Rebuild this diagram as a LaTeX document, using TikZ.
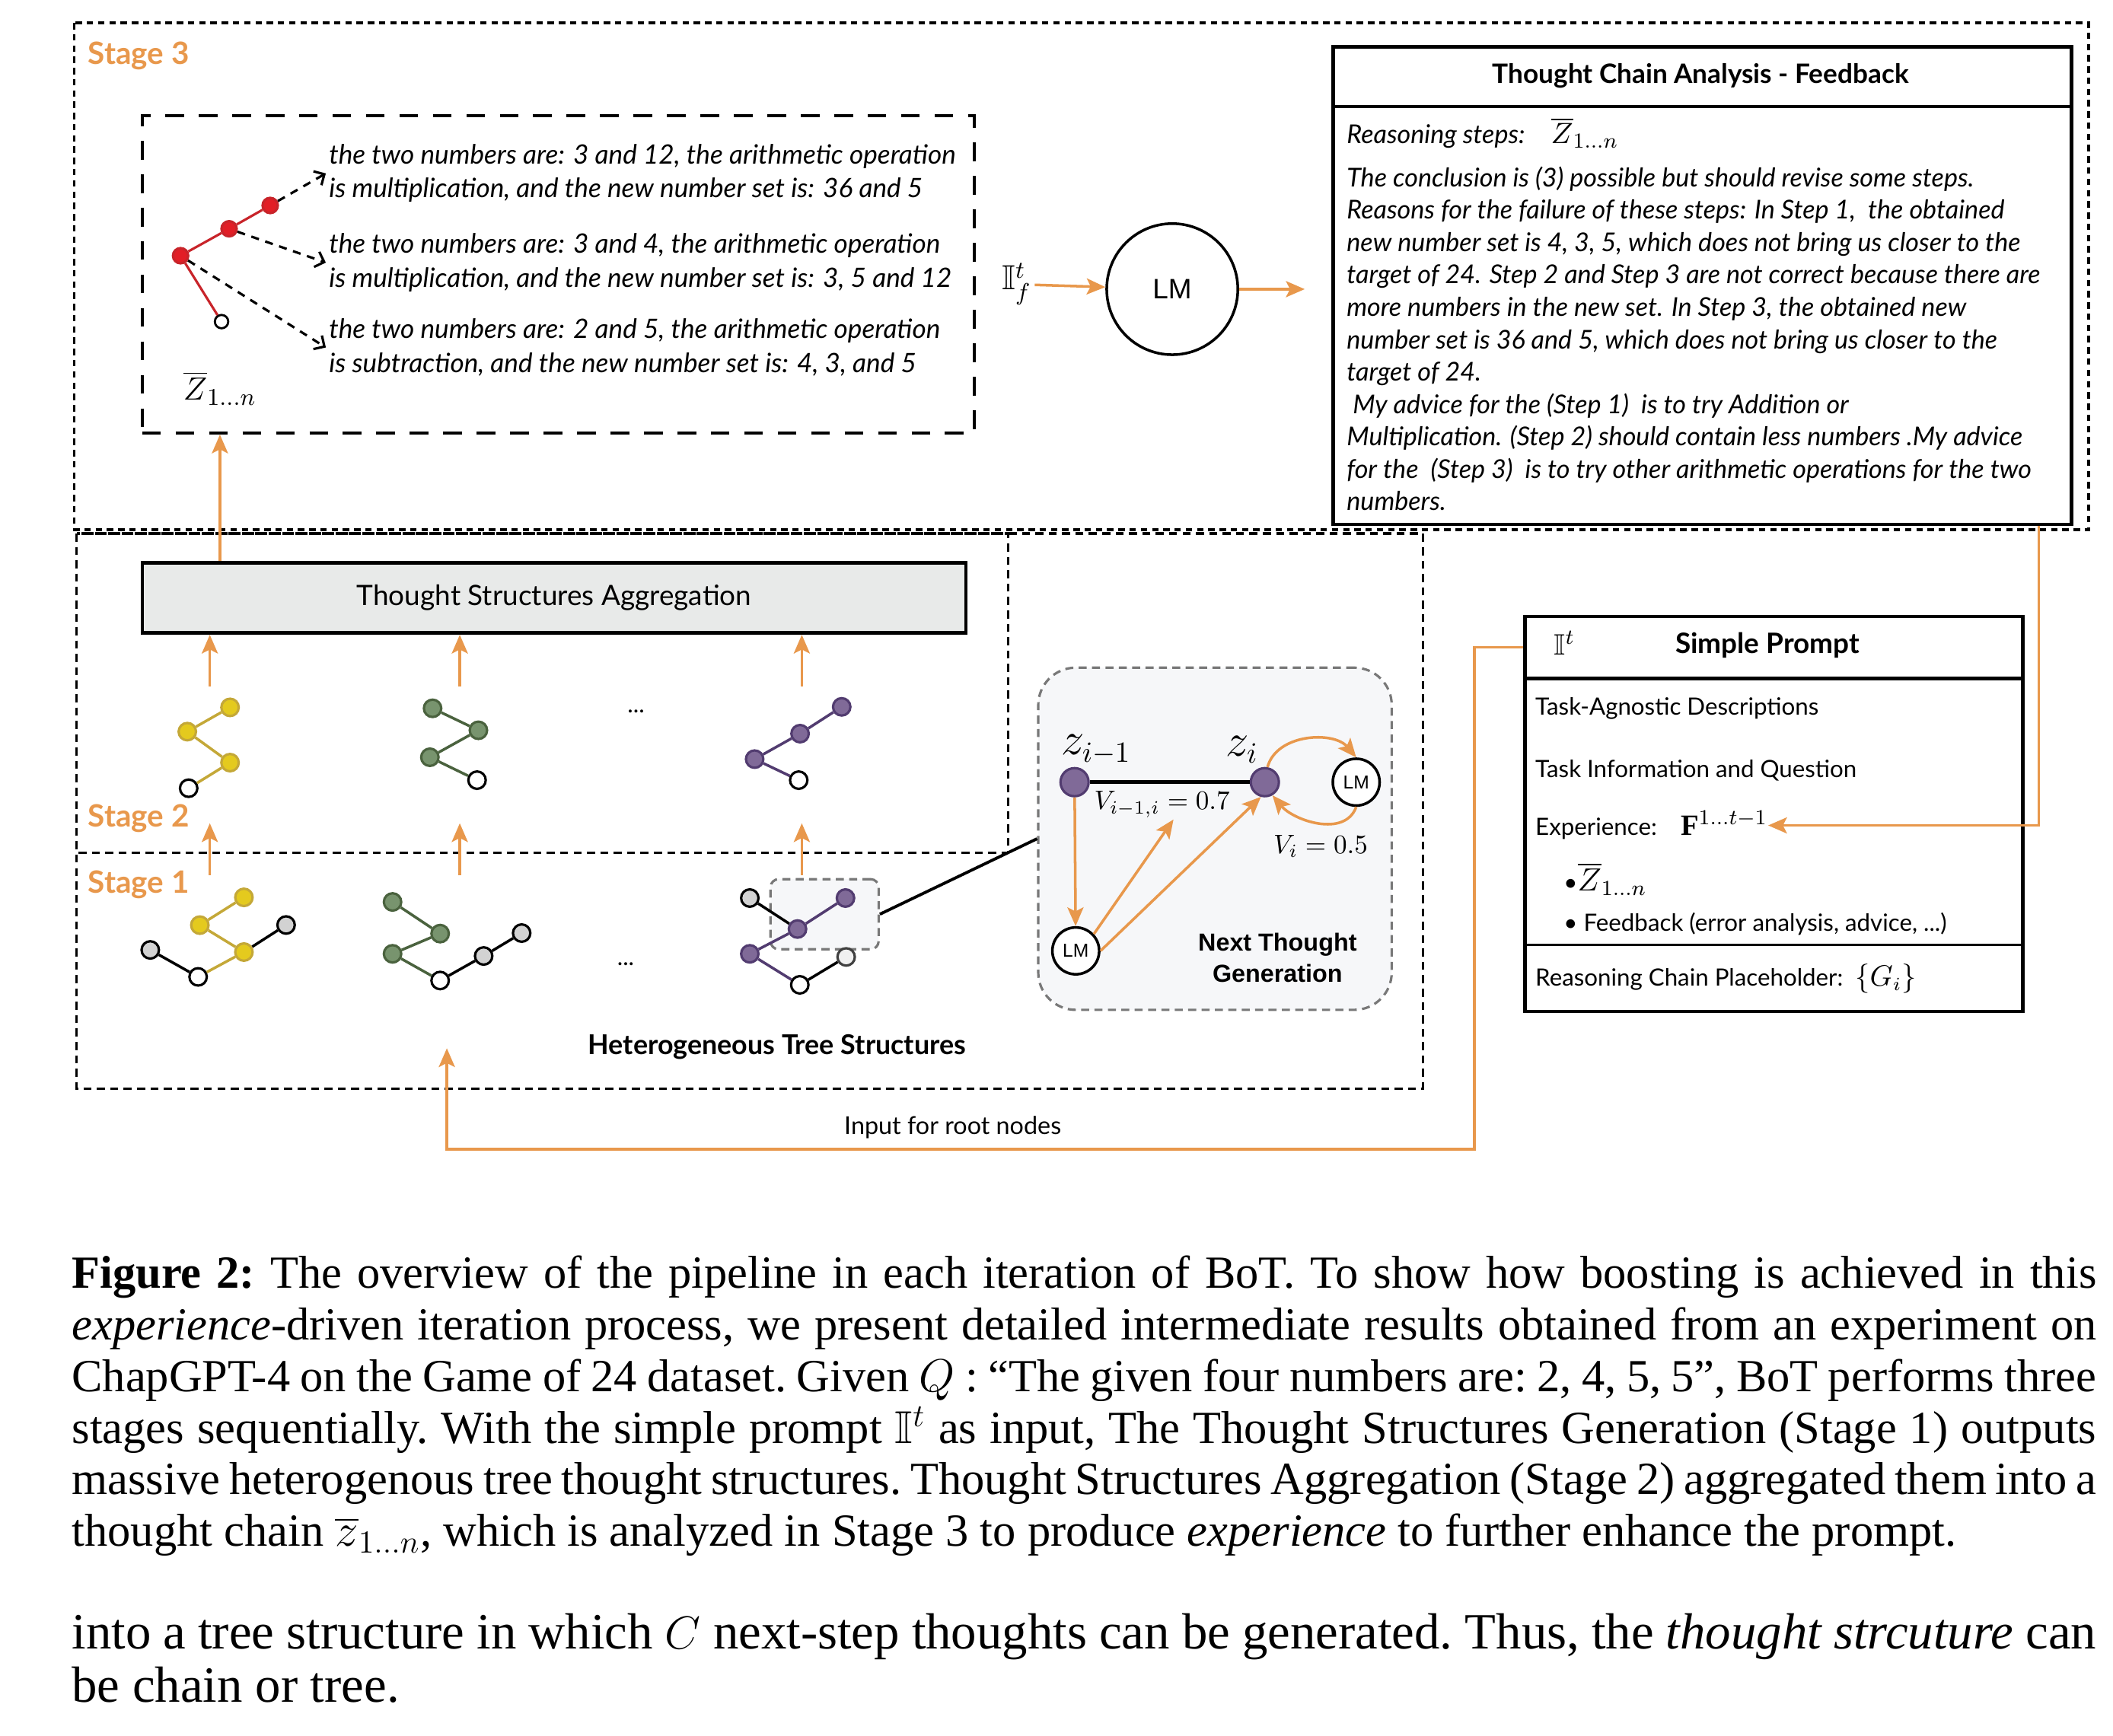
\documentclass[tikz,border=0pt]{standalone}
\usepackage{amsmath,amssymb}
\usepackage{fontspec}
\setmainfont{Liberation Serif}
\setsansfont{Lato}
\newfontfamily\arialfont{Liberation Sans}
\usetikzlibrary{arrows.meta,positioning,calc}
\definecolor{stageorange}{RGB}{232,152,76}
\definecolor{yfill}{RGB}{228,202,30}
\definecolor{yline}{RGB}{196,168,56}
\definecolor{gfill}{RGB}{120,148,110}
\definecolor{gline}{RGB}{74,98,62}
\definecolor{pfill}{RGB}{128,106,152}
\definecolor{pline}{RGB}{82,60,112}
\definecolor{kfill}{RGB}{210,210,210}
\definecolor{rfill}{RGB}{226,30,38}
\definecolor{rline}{RGB}{200,36,42}
\definecolor{aggfill}{RGB}{232,234,233}
\definecolor{ntgfill}{RGB}{246,247,249}
\definecolor{ntgline}{RGB}{120,120,120}
\tikzset{
	arr/.style={draw=stageorange, line width=1pt, -{Stealth[length=7pt,width=6pt,inset=1.5pt]}},
	tn/.style={circle, draw, line width=0.9pt, inner sep=0pt, minimum size=6.5pt},
	yn/.style={tn, fill=yfill, draw=yline},
	gn/.style={tn, fill=gfill, draw=gline},
	pn/.style={tn, fill=pfill, draw=pline},
	wn/.style={tn, fill=white, draw=black},
	kn/.style={tn, fill=kfill, draw=black},
	ye/.style={draw=yline, line width=1pt},
	ge/.style={draw=gline, line width=1pt},
	pe/.style={draw=pline, line width=1pt},
	ke/.style={draw=black, line width=1pt},
	stagebox/.style={dash pattern=on 3pt off 2pt, line width=0.9pt},
	stagelabel/.style={text=stageorange, font=\sffamily\bfseries\fontsize{11.5}{12}\selectfont, anchor=west, inner sep=0pt},
	box/.style={draw, line width=1.3pt, inner sep=0pt},
	steptext/.style={font=\sffamily\itshape\fontsize{10}{12.6}\selectfont, align=left, anchor=west, inner sep=1pt},
	item/.style={anchor=west, inner sep=0pt, font=\sffamily\fontsize{8.9}{9}\selectfont},
	lm/.style={circle, draw, line width=1pt, fill=white, inner sep=0pt, font=\arialfont\fontsize{7}{7}\selectfont, minimum size=17.5pt},
	zn/.style={circle, draw=pline, line width=0.9pt, fill=pfill, inner sep=0pt, minimum size=10.5pt},
	dots/.style={font=\sffamily\fontsize{9}{9}\selectfont},
	captext/.style={anchor=base west, inner sep=0pt, text width=756.6pt, align=justify, font=\rmfamily\frenchspacing\fontsize{17.2}{19.3}\selectfont}
}
\begin{document}
\begin{tikzpicture}[x=0.017704cm, y=-0.017704cm, font=\sffamily]
	\useasboundingbox (0,0) rectangle (1568,1288);

	\draw[dash pattern=on 2.4pt off 1.8pt, line width=1pt] (55,17) rectangle (1550,393);
	\draw[stagebox] (57,396) rectangle (1056,808);
	\draw[stagebox] (57,396) rectangle (748,633);
	\node[stagelabel] at (65,41.6) {Stage 3};
	\node[stagelabel] at (65,607.2) {Stage 2};
	\node[stagelabel] at (65,656.5) {Stage 1};

	\node[draw, dash pattern=on 7pt off 5.5pt, line width=1.2pt, minimum width=311pt, minimum height=118.6pt] (zbox) at (414.3,203.6) {};
	\node[steptext] (s1) at (241.8,128.7) {the two numbers are: 3 and 12, the arithmetic operation\\is multiplication, and the new number set is: 36 and 5};
	\node[steptext] (s2) at (241.8,194.9) {the two numbers are: 3 and 4, the arithmetic operation\\is multiplication, and the new number set is: 3, 5 and 12};
	\node[steptext] (s3) at (241.8,257.9) {the two numbers are: 2 and 5, the arithmetic operation\\is subtraction, and the new number set is: 4, 3, and 5};
	\node[tn, fill=rfill, draw=rline, minimum size=5.7pt] (rt) at (134,189.8) {};
	\node[tn, fill=rfill, draw=rline, minimum size=5.7pt] (rm) at (170,169.8) {};
	\node[tn, fill=rfill, draw=rline, minimum size=5.7pt] (rtop) at (200.5,152.5) {};
	\node[tn, fill=white, line width=0.8pt, minimum size=5pt] (rw) at (164.4,238.7) {};
	\draw[draw=rline, line width=0.9pt] (rt) -- (rm) -- (rtop);
	\draw[draw=rline, line width=0.9pt] (rt) -- (rw);
	\foreach \a/\b in {rtop/s1, rm/s2, rt/s3}
		\draw[dash pattern=on 3pt off 2.5pt, line width=0.9pt, -{Straight Barb[length=3pt,width=6pt]}] (\a) -- (\b.west);
	\node[font=\fontsize{13}{13}\selectfont] (zbar) at (163.2,288) {$\overline{Z}_{1\ldots n}$};

	\node[inner sep=1pt, font=\fontsize{13}{13}\selectfont] (ift) at (754.5,211) {$\mathbb{I}^t_f$};
	\node[circle, draw, line width=1pt, minimum size=49pt, inner sep=0pt, font=\arialfont\fontsize{10.5}{10.5}\selectfont] (lmbig) at (869.9,214.6) {LM};
	\coordinate (fbin) at (968.2,214.6);
	\draw[arr] (ift) -- (lmbig);
	\draw[arr] (lmbig) -- (fbin);

	\node[box, minimum width=276pt, minimum height=178.6pt, anchor=north west] (fb) at (988,33.3) {};
	\draw[line width=1.3pt] (fb.north west |- 0,79) -- (fb.north east |- 0,79);
	\node[font=\sffamily\bfseries\fontsize{10}{10}\selectfont] (fbtitle) at (1262,56.5) {Thought Chain Analysis - Feedback};
	\node[font=\sffamily\itshape\fontsize{9.7}{12.1}\selectfont, align=left, anchor=north west, inner sep=0pt] (fbbody) at (999,87) {Reasoning steps:\quad {\upshape\fontsize{11}{11}\selectfont$\overline{Z}_{1\ldots n}$}\\[4pt]
		The conclusion is (3) possible but should revise some steps.\\
		Reasons for the failure of these steps: In Step 1,\ \ the obtained\\
		new number set is 4, 3, 5, which does not bring us closer to the\\
		target of 24. Step 2 and Step 3 are not correct because there are\\
		more numbers in the new set. In Step 3, the obtained new\\
		number set is 36 and 5, which does not bring us closer to the\\
		target of 24.\\
		\ My advice for the (Step 1)\ \ is to try Addition or\\
		Multiplication. (Step 2) should contain less numbers .My advice\\
		for the\ \ (Step 3)\ \ is to try other arithmetic operations for the two\\
		numbers.};

	\node[box, fill=aggfill, minimum width=307.9pt, minimum height=26.2pt, font=\sffamily\fontsize{10.5}{10.5}\selectfont] (agg) at (411.2,443.8) {Thought Structures Aggregation};
	\coordinate (ax) at (163.2,0);
	\draw[arr] (agg.north -| ax) -- (zbox.south -| ax);

	\node[yn] (ya1) at (170.7,525) {};
	\node[yn] (ya2) at (139,543) {};
	\node[yn] (ya3) at (170.7,566) {};
	\node[wn] (ya4) at (140,585) {};
	\draw[ye] (ya1) -- (ya2) -- (ya3) -- (ya4);
	\node[gn] (ga1) at (321,525.7) {};
	\node[gn] (ga2) at (355,542) {};
	\node[gn] (ga3) at (319,562) {};
	\node[wn] (ga4) at (354,579) {};
	\draw[ge] (ga1) -- (ga2) -- (ga3) -- (ga4);
	\node[pn] (pa1) at (624.6,524.6) {};
	\node[pn] (pa2) at (593.7,544.5) {};
	\node[pn] (pa3) at (560,563.4) {};
	\node[wn] (pa4) at (592.7,579) {};
	\draw[pe] (pa1) -- (pa2) -- (pa3) -- (pa4);
	\node[dots] at (472,528) {...};

	\foreach \i/\x in {1/155.7,2/341.2,3/595}{
		\coordinate (up\i) at (\x,509.5);
		\draw[arr] (up\i) -- (agg.south -| up\i);
		\coordinate (lo\i) at (\x,649.6);
		\coordinate (hi\i) at (\x,611);
		\draw[arr] (lo\i) -- (hi\i);
	}

	\node[kn] (yb1) at (111.5,705) {};
	\node[wn] (yb2) at (147,725) {};
	\node[yn] (yb3) at (181,706.6) {};
	\node[yn] (yb4) at (148.3,686.6) {};
	\node[yn] (yb5) at (181,666) {};
	\node[kn] (yb6) at (212.3,686.5) {};
	\draw[ke] (yb1) -- (yb2);
	\draw[ye] (yb2) -- (yb3) -- (yb4) -- (yb5);
	\draw[ke] (yb3) -- (yb6);

	\node[gn] (gb1) at (291.3,669.4) {};
	\node[gn] (gb2) at (326.6,692.9) {};
	\node[gn] (gb3) at (291.3,707.9) {};
	\node[wn] (gb4) at (326.6,727.7) {};
	\node[kn] (gb5) at (358.9,709.5) {};
	\node[kn] (gb6) at (387.1,692.5) {};
	\draw[ge] (gb1) -- (gb2) -- (gb3) -- (gb4);
	\draw[ke] (gb4) -- (gb5) -- (gb6);
	\node[dots] at (464.3,715.5) {...};

	\node[draw=ntgline, fill=ntgfill, dash pattern=on 3pt off 2pt, line width=0.9pt, rounded corners=3pt, minimum width=40.4pt, minimum height=26.2pt] (hl) at (611.9,678.5) {};
	\node[kn] (pb1) at (556.4,666.5) {};
	\node[pn] (pb2) at (627.4,666.5) {};
	\node[pn] (pb3) at (591.8,689.5) {};
	\node[pn] (pb4) at (556.4,707.9) {};
	\node[wn] (pb5) at (593.5,730.9) {};
	\node[tn, fill=black!6, draw=black!75] (pb6) at (627.9,710.2) {};
	\draw[ke] (pb1) -- (pb3);
	\draw[pe] (pb2) -- (pb3) -- (pb4) -- (pb5);
	\draw[ke] (pb5) -- (pb6);
	\node[font=\sffamily\bfseries\fontsize{10.2}{10.2}\selectfont] (hts) at (576.7,777) {Heterogeneous Tree Structures};

	\node[draw=ntgline, fill=ntgfill, dash pattern=on 3pt off 2pt, line width=0.9pt, rounded corners=14pt, minimum width=132.1pt, minimum height=127.9pt] (ntg) at (901.6,622.5) {};
	\draw[line width=1.1pt] (hl.east) -- (ntg.west);
	\node[zn] (zp) at (797.4,580.5) {};
	\node[zn] (zc) at (938.6,580.5) {};
	\node[lm] (lmr) at (1006.4,580.5) {LM};
	\node[lm] (lmb) at (798.3,705.7) {LM};
	\draw[line width=1.4pt] (zp) -- (zc);
	\node[font=\fontsize{16}{16}\selectfont] at (813.4,556.4) {$z_{i-1}$};
	\node[font=\fontsize{16}{16}\selectfont] at (921.7,556.4) {$z_i$};
	\node[font=\fontsize{10}{10}\selectfont] at (862.3,596.9) {$V_{i-1,i}=0.7$};
	\node[font=\fontsize{10}{10}\selectfont] at (980,628) {$V_i=0.5$};
	\coordinate (vtip) at (870.8,608.2);
	\draw[arr] (zp) -- (lmb);
	\draw[arr] (lmb.43) -- (vtip);
	\draw[arr] (lmb.east) -- (zc.-105);
	\draw[arr] (zc.80) to[out=75,in=130] (lmr.north);
	\draw[arr] (lmr.south) to[out=-110,in=-50] (zc.-60);
	\node[align=center, font=\arialfont\bfseries\fontsize{9.2}{11.4}\selectfont] at (948,710.8) {Next Thought\\Generation};

	\node[box, minimum width=185.9pt, minimum height=147.7pt, anchor=north west] (sp) at (1130.5,456.2) {};
	\node[box, minimum width=185.9pt, minimum height=23.2pt, anchor=north west] (sptitle) at (1130.5,456.2) {};
	\draw[line width=0.9pt] (sp.west |- 0,701.2) -- (sp.east |- 0,701.2);
	\node[font=\fontsize{11}{11}\selectfont] at (1161,477.2) {$\mathbb{I}^t$};
	\node[font=\sffamily\bfseries\fontsize{10.5}{10.5}\selectfont] at (1311.5,479.2) {Simple Prompt};
	\node[item] at (1139,525.9) {Task-Agnostic Descriptions};
	\node[item] at (1139,571.6) {Task Information and Question};
	\node[item] (exp) at (1139,612.6) {Experience:\quad {\fontsize{11}{11}\selectfont$\mathbf{F}^{1\ldots t-1}$}\hspace{5pt}};
	\node[item] at (1160,652.4) {\textbullet{\fontsize{11.5}{11.5}\selectfont$\overline{Z}_{1\ldots n}$}};
	\node[item] at (1160,685.6) {\textbullet\ Feedback (error analysis, advice, ...)};
	\node[item] at (1139,726.5) {Reasoning Chain Placeholder:\ \ {\fontsize{10.5}{10.5}\selectfont$\{G_i\}$}};

	\coordinate (fbx) at (1513,0);
	\draw[arr] (fb.south -| fbx) |- (exp.east);
	\coordinate (inx) at (1094,853);
	\coordinate (rootin) at (331.6,778);
	\draw[arr] (sptitle.west) -| (inx) -| (rootin);
	\node[font=\sffamily\fontsize{9.2}{9.2}\selectfont] at (707,836.5) {Input for root nodes};

	\node[captext] (cap) at (53,956) {\textbf{Figure 2:} The overview of the pipeline in each iteration of BoT. To show how boosting is achieved in this\linebreak
		\textit{experience}-driven iteration process, we present detailed intermediate results obtained from an experiment on\linebreak
		ChapGPT-4 on the Game of 24 dataset. Given $Q$ : ``The given four numbers are: 2, 4, 5, 5'', BoT performs three\linebreak
		stages sequentially. With the simple prompt $\mathbb{I}^t$ as input, The Thought Structures Generation (Stage 1) outputs\linebreak
		massive heterogenous tree thought structures. Thought Structures Aggregation (Stage 2) aggregated them into a\linebreak
		thought chain $\overline{z}_{1\ldots n}$, which is analyzed in Stage 3 to produce \textit{experience} to further enhance the prompt.};
	\node[captext, font=\rmfamily\frenchspacing\fontsize{19}{19.7}\selectfont] (body) at (53,1224) {into a tree structure in which $C$ next-step thoughts can be generated. Thus, the \textit{thought strcuture} can\linebreak
		be chain or tree.};
\end{tikzpicture}
\end{document}
